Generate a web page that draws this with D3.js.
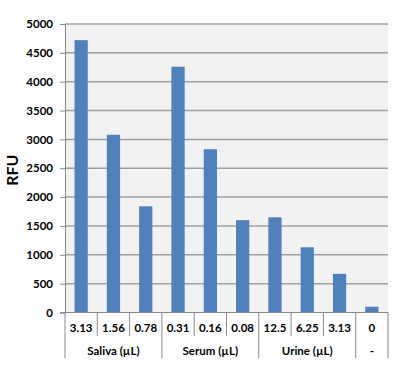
<!DOCTYPE html>
<html>
<head>
<meta charset="utf-8">
<script src="https://cdn.jsdelivr.net/npm/d3@7"></script>
<style>
body { margin: 0; background: #fff; }
text { font-family: Lato, "Open Sans", sans-serif; font-weight: bold; fill: #000; }
</style>
</head>
<body>
<script>
// valori
var labels = ["3.13", "1.56", "0.78", "0.31", "0.16", "0.08", "12.5", "6.25", "3.13", "0"];
var values = [4720, 3080, 1840, 4260, 2830, 1600, 1650, 1130, 670, 100];
var groups = ["Saliva (\u00b5L)", "Serum (\u00b5L)", "Urine (\u00b5L)", "-"];
var groupSize = [3, 3, 3, 1];
var yTicks = [0, 500, 1000, 1500, 2000, 2500, 3000, 3500, 4000, 4500, 5000];

var width = 400, height = 372;
var mLeft = 65, mRight = 388, mTop = 24, mBottom = 312.5;

var svg = d3.select("body").append("svg").attr("width", width).attr("height", height);

var x = d3.scaleBand().domain(d3.range(labels.length)).range([mLeft, mRight]).paddingInner(0.59).paddingOuter(0.295);
var y = d3.scaleLinear().domain([0, 5000]).range([mBottom, mTop]);

// sfondo area
svg.append("rect").attr("x", mLeft).attr("y", mTop).attr("width", mRight - mLeft).attr("height", mBottom - mTop).attr("fill", "#f2f2f2");

// griglia
svg.selectAll("line.grid").data(yTicks.slice(1)).enter().append("line")
    .attr("x1", mLeft).attr("x2", mRight)
    .attr("y1", function(d){ return y(d); }).attr("y2", function(d){ return y(d); })
    .attr("stroke", "#a0a0a0").attr("stroke-width", 1.5);

// barre
svg.selectAll("rect.bar").data(values).enter().append("rect")
    .attr("x", function(d, i){ return x(i); })
    .attr("y", function(d){ return y(d); })
    .attr("width", x.bandwidth())
    .attr("height", function(d){ return y(0) - y(d); })
    .attr("fill", "#4f81bd");

// asse y
var yAxis = d3.axisLeft(y).tickValues(yTicks).tickFormat(d3.format("d")).tickSize(5).tickPadding(7);
var gy = svg.append("g").attr("transform", "translate(" + mLeft + ",0)").call(yAxis);
gy.select(".domain").attr("stroke", "#888");
gy.selectAll(".tick line").attr("stroke", "#888");
gy.selectAll(".tick text").style("font-size", "11.5px").attr("fill", "#000");

// linea zero
svg.append("line").attr("x1", mLeft - 5).attr("x2", mRight).attr("y1", mBottom).attr("y2", mBottom).attr("stroke", "#888");

// etichette categorie
var step = (mRight - mLeft) / labels.length;
svg.selectAll("text.cat").data(labels).enter().append("text")
    .attr("x", function(d, i){ return mLeft + step * (i + 0.5); })
    .attr("y", 332)
    .attr("text-anchor", "middle")
    .style("font-size", "11.5px")
    .text(function(d){ return d; });

// separatori categorie
var pos = 0, groupStarts = [];
groupSize.forEach(function(n){ groupStarts.push(pos); pos += n; });
svg.selectAll("line.sep").data(d3.range(labels.length + 1)).enter().append("line")
    .attr("x1", function(i){ return mLeft + step * i; })
    .attr("x2", function(i){ return mLeft + step * i; })
    .attr("y1", mBottom)
    .attr("y2", function(i){ return (groupStarts.indexOf(i) >= 0 || i == labels.length) ? 358 : 336; })
    .attr("stroke", "#888");

// etichette gruppi
svg.selectAll("text.grp").data(groups).enter().append("text")
    .attr("x", function(d, i){ return mLeft + step * (groupStarts[i] + groupSize[i] / 2); })
    .attr("y", 355)
    .attr("text-anchor", "middle")
    .style("font-size", "11.5px")
    .text(function(d){ return d; });

// titolo asse
svg.append("text")
    .attr("transform", "translate(18," + ((mTop + mBottom) / 2 + 2) + ") rotate(-90)")
    .attr("text-anchor", "middle")
    .style("font-size", "16px")
    .text("RFU");
</script>
</body>
</html>
